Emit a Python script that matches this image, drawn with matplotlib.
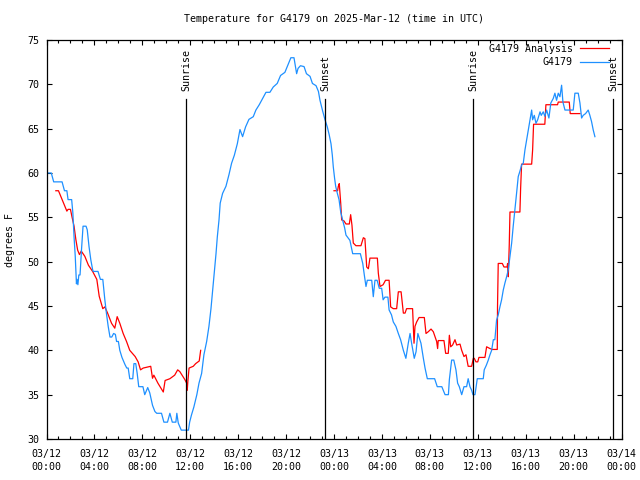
import datetime as dt
import numpy as np
import matplotlib
matplotlib.use("Agg")
import matplotlib.pyplot as plt
from matplotlib.ticker import MultipleLocator, FuncFormatter

plt.rcParams['font.family'] = ['DejaVu Sans Mono']

BASE = dt.datetime(2025, 3, 12, 0, 0)

# Observed station temperature (hours since 2025-03-12 00:00 UTC, deg F)
blue_h = [0.0,0.4,0.6,1.3,1.5,1.7,1.8,2.1,2.2,2.3,2.4,2.5,2.55,2.62,2.7,2.8,2.92,3.05,3.3,3.4,3.55,3.7,3.85,3.9,4.3,4.5,4.7,4.87,5.0,5.15,5.3,5.45,5.6,5.75,5.85,6.0,6.12,6.3,6.55,6.7,6.82,6.95,7.2,7.3,7.45,7.57,7.7,8.05,8.2,8.45,8.62,8.85,9.05,9.2,9.6,9.8,10.1,10.3,10.5,10.8,10.88,11.0,11.25,11.85,11.95,12.1,12.3,12.55,12.73,12.95,13.14,13.37,13.56,13.73,13.87,14.0,14.15,14.26,14.4,14.5,14.7,14.98,15.23,15.45,15.68,15.93,16.15,16.37,16.62,16.9,17.26,17.48,17.76,17.96,18.32,18.65,18.93,19.26,19.54,19.9,20.1,20.4,20.66,20.88,21.0,21.2,21.5,21.7,22.0,22.2,22.5,22.7,22.83,23.05,23.25,23.44,23.6,23.75,23.86,23.94,24.05,24.14,24.28,24.42,24.56,24.72,24.89,25.0,25.33,25.56,26.2,26.4,26.53,26.67,26.78,27.15,27.28,27.42,27.6,27.78,27.98,28.1,28.25,28.5,28.6,28.8,28.95,29.17,29.37,29.56,29.79,30.0,30.2,30.35,30.48,30.7,30.85,31.0,31.26,31.46,31.6,31.79,32.4,32.62,33.0,33.27,33.55,33.63,33.82,34.0,34.18,34.32,34.46,34.66,34.85,35.07,35.2,35.35,35.49,35.6,35.77,35.96,36.46,36.54,36.71,36.88,37.02,37.16,37.3,37.43,37.57,37.71,37.85,37.99,38.13,38.27,38.41,38.55,38.69,38.83,38.96,39.1,39.24,39.38,39.52,39.66,39.8,39.94,40.08,40.22,40.36,40.5,40.58,40.72,40.86,41.0,41.2,41.3,41.47,41.6,41.75,41.94,42.1,42.3,42.44,42.58,42.72,42.86,43.0,43.11,43.28,43.97,44.11,44.39,44.53,44.67,44.8,45.0,45.22,45.36,45.5,45.64,45.78]
blue_t = [60,60,59,59,58,58,57,57,55.5,52.8,50.6,47.5,48,47.4,48.5,48.5,51.3,54,54,53.6,51.7,50.2,49.1,48.9,48.9,48,48,45.7,44.2,42.7,41.5,41.5,41.9,41.8,41,41,40,39.2,38.4,38,38,36.8,36.8,38.5,38.5,37.4,35.9,35.9,35,35.8,35.2,33.8,33.1,32.9,32.9,31.9,31.9,32.9,31.9,31.9,32.9,31.8,31,31,31.9,32.7,33.6,35,36.3,37.4,39.5,41,42.7,44.7,46.8,48.7,50.9,52.8,54.7,56.6,57.7,58.5,59.8,61.1,62,63.3,64.9,64.1,65.2,66.05,66.35,67.1,67.7,68.2,69.1,69.1,69.7,70.1,71,71.35,72,73,73,71.2,71.8,72.1,72,71.2,70.9,70.1,69.85,69.2,68.2,67,66,65.2,64.3,63.3,62,60.7,59.4,58.5,57.7,57,55.6,54.7,53.8,53,52.4,50.9,50.9,49.8,48.5,47.2,47.9,47.9,46.05,47.9,47.9,47,47,45.7,46,46,44.55,44,43.2,42.7,41.9,41.2,40,39.1,40.8,41.9,40.8,39.1,39.85,41.9,40.8,39.1,38,36.8,36.8,35.9,35.9,35,35,36.7,38.9,38.9,37.8,36.3,35.9,35,35.9,35.9,36.8,35.9,35.5,35,35,36.8,36.8,37.8,38.3,38.9,39.5,40,41.2,41.2,43.4,44,44.9,45.7,46.8,47.6,48.3,49.1,50.6,52.1,54,55.8,57.7,59.6,60.2,60.9,61.1,62.6,63.7,64.85,66,67.1,66,66.5,65.6,66,66.9,66.5,66.9,66.4,67.1,66.2,67.9,68.4,69,68.2,69,68.6,69.9,68,67.1,67.1,69,69,67.9,66.2,66.5,66.7,67.1,66.5,65.8,64.85,64.1]

# Analysis series, first run (03/12 night)
red_h1 = [0.78,1.0,1.7,1.8,2.0,2.12,2.3,2.45,2.6,2.75,2.9,3.2,3.5,3.85,4.2,4.4,4.7,4.87,5.1,5.43,5.7,5.9,6.12,6.4,6.68,6.95,7.4,7.65,7.85,8.07,8.7,8.85,8.96,9.3,9.75,9.9,10.3,10.7,10.95,11.13,11.55,11.7,11.75,11.8,11.9,12.25,12.45,12.75,12.87]
red_t1 = [58,58,55.7,55.9,55.9,55.1,54,52.5,51.3,50.8,51.2,50.6,49.6,48.9,48,46.1,44.7,44.9,44.2,43.05,42.5,43.8,43.05,41.9,41,40,39.3,38.7,37.8,38,38.2,36.85,37.2,36.3,35.3,36.6,36.8,37.2,37.8,37.6,36.7,36.3,35.5,36.5,38,38.2,38.5,38.8,40]

# Analysis series, second run (03/13)
red_h2 = [24.0,24.3,24.36,24.44,24.56,24.64,24.83,25.0,25.28,25.39,25.5,25.61,25.83,26.25,26.45,26.58,26.73,26.87,27.0,27.62,27.7,27.84,28.1,28.3,28.6,28.73,28.95,29.23,29.37,29.6,29.79,29.93,30.06,30.56,30.68,30.76,30.9,31.1,31.54,31.68,31.87,32.1,32.29,32.57,32.65,32.7,33.18,33.32,33.54,33.63,33.74,33.9,34.1,34.24,34.52,34.66,34.85,35.02,35.2,35.49,35.63,35.71,35.85,36.0,36.1,36.6,36.74,37.02,37.21,37.63,37.65,37.71,38.05,38.19,38.45,38.49,38.55,38.63,38.69,39.52,39.58,39.66,40.5,40.58,40.66,41.6,41.69,42.66,42.72,43.64,43.72,44.53]
red_t2 = [58,58,58.5,58.8,56.6,54.7,54.6,54.25,54.25,55.3,54.1,52.1,51.8,51.8,52.7,52.6,49.4,49.2,50.4,50.4,48.7,47.2,47.4,47.9,47.9,44.9,44.7,44.7,46.6,46.6,44.2,44.2,44.7,44.7,40.8,42.7,43.2,43.7,43.7,41.9,42.1,42.4,42.1,41,40.2,41.1,41.1,39.66,39.66,41.7,40.4,40.6,41.2,40.6,40.7,40,39.3,39.5,38.2,38.2,39.1,39.1,38.7,38.7,39.2,39.2,40.4,40.2,40.1,40.1,44.9,49.8,49.8,49.4,49.4,49.8,48.3,51.9,55.6,55.6,58.3,61,61,62.6,65.5,65.5,67.7,67.7,68,68,66.7,66.7]

sun_h = [11.62, 23.27, 35.58, 47.31]
sun_labels = ['Sunrise', 'Sunset', 'Sunrise', 'Sunset']

RED = '#ff0000'
BLUE = '#1e90ff'
FS = 7.2

fig = plt.figure(figsize=(6.4, 4.8), dpi=100)
ax = fig.add_axes([46.5/640, 41/480, 575/640, 399/480])

ax.plot(red_h1, red_t1, color=RED, lw=0.9, label='G4179 Analysis')
ax.plot(red_h2, red_t2, color=RED, lw=0.9)
ax.plot(blue_h, blue_t, color=BLUE, lw=0.9, label='G4179')

for h, lab in zip(sun_h, sun_labels):
    ax.plot([h, h], [30, 68.35], color='black', lw=0.9)
    ax.text(h + 0.05, 69.2, lab, rotation=90, ha='center', va='bottom', fontsize=FS)

ax.set_xlim(0, 48)
ax.set_ylim(30, 75)
ax.xaxis.set_major_locator(MultipleLocator(4))
ax.xaxis.set_minor_locator(MultipleLocator(1))
ax.yaxis.set_major_locator(MultipleLocator(5))

def fmt(v, pos):
    d = BASE + dt.timedelta(hours=v)
    return d.strftime('%m/%d\n%H:%M')
ax.xaxis.set_major_formatter(FuncFormatter(fmt))

ax.tick_params(axis='both', which='major', direction='in', length=3.6, width=0.8,
               top=True, right=True, labelsize=FS, pad=5)
ax.tick_params(axis='x', which='minor', direction='in', length=2.2, width=0.8,
               top=True, bottom=True)
ax.tick_params(axis='x', which='major', pad=7)
for lab in ax.get_xticklabels():
    lab.set_linespacing(1.45)
for s in ax.spines.values():
    s.set_linewidth(0.9)

fig.text(10/640, 0.5, 'degrees F', rotation=90, ha='center', va='center', fontsize=FS)
fig.text(334/640, 1 - 19.5/480, 'Temperature for G4179 on 2025-Mar-12 (time in UTC)',
         ha='center', va='center', fontsize=FS)

leg = ax.legend(loc='upper right', bbox_to_anchor=(0.978, 0.99), frameon=False,
                markerfirst=False, fontsize=FS, handlelength=2.9, handletextpad=0.7,
                labelspacing=0.35, borderaxespad=0, borderpad=0)

fig.savefig('out.png', dpi=100)
